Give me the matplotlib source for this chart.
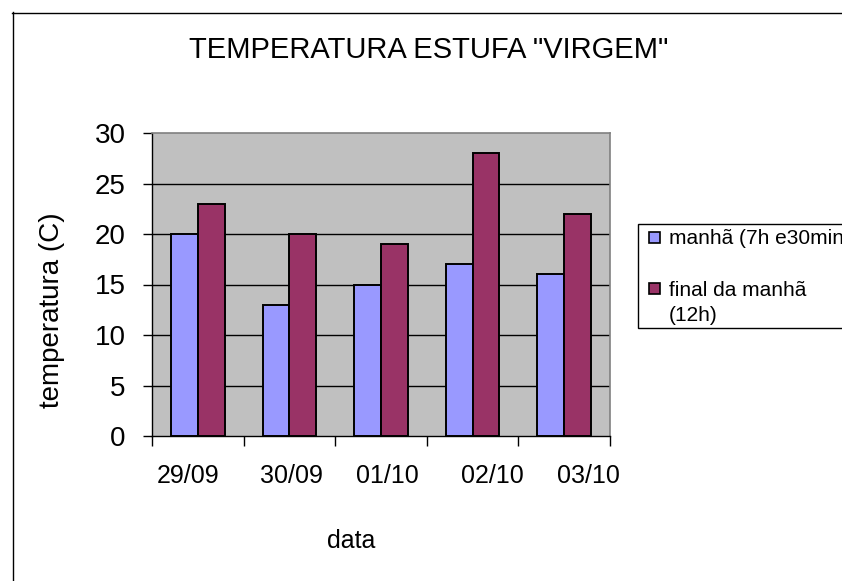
import matplotlib
matplotlib.use('Agg')
import matplotlib.pyplot as plt
import matplotlib.patches as mpatches
import matplotlib.lines as mlines
import matplotlib.transforms as mtrans
import numpy as np

categories = ['29/09', '30/09', '01/10', '02/10', '03/10']
manha = [20, 13, 15, 17, 16]
final_manha = [23, 20, 19, 28, 22]
series_labels = ['manhã (7h e30min)', 'final da manhã\n(12h)']
y_ticks = [0, 5, 10, 15, 20, 25, 30]

plt.rcParams['font.family'] = ['Liberation Sans', 'DejaVu Sans']

W, H = 842, 581
fig = plt.figure(figsize=(W / 100, H / 100), dpi=100)
fig.patch.set_facecolor('white')

def fx(px):
    return px / W

def fy(py):
    return 1 - py / H

# outer chart border (extends beyond the image on right/bottom)
fig.add_artist(mlines.Line2D([fx(12), 1.01], [fy(12.5), fy(12.5)], color='black', lw=1.0))
fig.add_artist(mlines.Line2D([fx(12.5), fx(12.5)], [fy(12), -0.01], color='black', lw=1.0))

left, right, top, bottom = 152, 610, 133, 436
ax = fig.add_axes([fx(left), fy(bottom), fx(right - left), (bottom - top) / H])
ax.set_facecolor('#C0C0C0')

x = np.arange(len(categories))
bw = 0.293
ax.bar(x - bw / 2, manha, width=bw, color='#9999FF', edgecolor='black', linewidth=1.4, zorder=3)
ax.bar(x + bw / 2, final_manha, width=bw, color='#993366', edgecolor='black', linewidth=1.4, zorder=3)

ax.set_xlim(-0.5, len(categories) - 0.5)
ax.set_ylim(0, 30)
ax.set_yticks(y_ticks)
ax.set_yticklabels([str(v) for v in y_ticks], fontsize=20)
ax.tick_params(axis='y', direction='out', length=6.5, width=1, pad=12.5, color='black')

ax.set_xticks(x)
ax.set_xticklabels(categories, fontsize=18)
ax.set_xticks(np.arange(-0.5, len(categories), 1.0), minor=True)
ax.tick_params(axis='x', which='major', length=0, pad=20)
ax.tick_params(axis='x', which='minor', direction='out', length=7, width=1, color='black')

offsets_px = [-10, 2, 6, 20, 24]
for lab, off in zip(ax.get_xticklabels(), offsets_px):
    lab.set_transform(lab.get_transform() + mtrans.ScaledTranslation(off / 100, 0, fig.dpi_scale_trans))

for v in y_ticks[1:-1]:
    ax.axhline(v, color='black', lw=1.0, zorder=1)

for s in ['top', 'right']:
    ax.spines[s].set_color('#808080')
    ax.spines[s].set_linewidth(1.2)
for s in ['left', 'bottom']:
    ax.spines[s].set_color('black')
    ax.spines[s].set_linewidth(1.0)

# titles
fig.text(fx(429), fy(58), 'TEMPERATURA ESTUFA "VIRGEM"', ha='center', va='baseline', fontsize=21)
fig.text(fx(52), fy(310), 'temperatura (C)', ha='center', va='center', rotation=90, fontsize=20)
fig.text(fx(351), fy(541), 'data', ha='center', va='center', fontsize=18)

# legend (manual, clipped by figure edge)
fig.add_artist(mpatches.Rectangle((fx(638), fy(328)), fx(260), (328 - 224) / H,
                                  transform=fig.transFigure, facecolor='white',
                                  edgecolor='black', lw=1.0))
colors = ['#9999FF', '#993366']
sq_y = [238, 289]
txt_y = [238, 303]
for c, sy, ty, lab in zip(colors, sq_y, txt_y, series_labels):
    fig.add_artist(mpatches.Rectangle((fx(649), fy(sy + 5)), fx(11), 11 / H,
                                      transform=fig.transFigure, facecolor=c,
                                      edgecolor='black', lw=1.2))
    fig.text(fx(669), fy(ty), lab, ha='left', va='center', fontsize=15, linespacing=1.45)

fig.savefig('out.png', dpi=100)
